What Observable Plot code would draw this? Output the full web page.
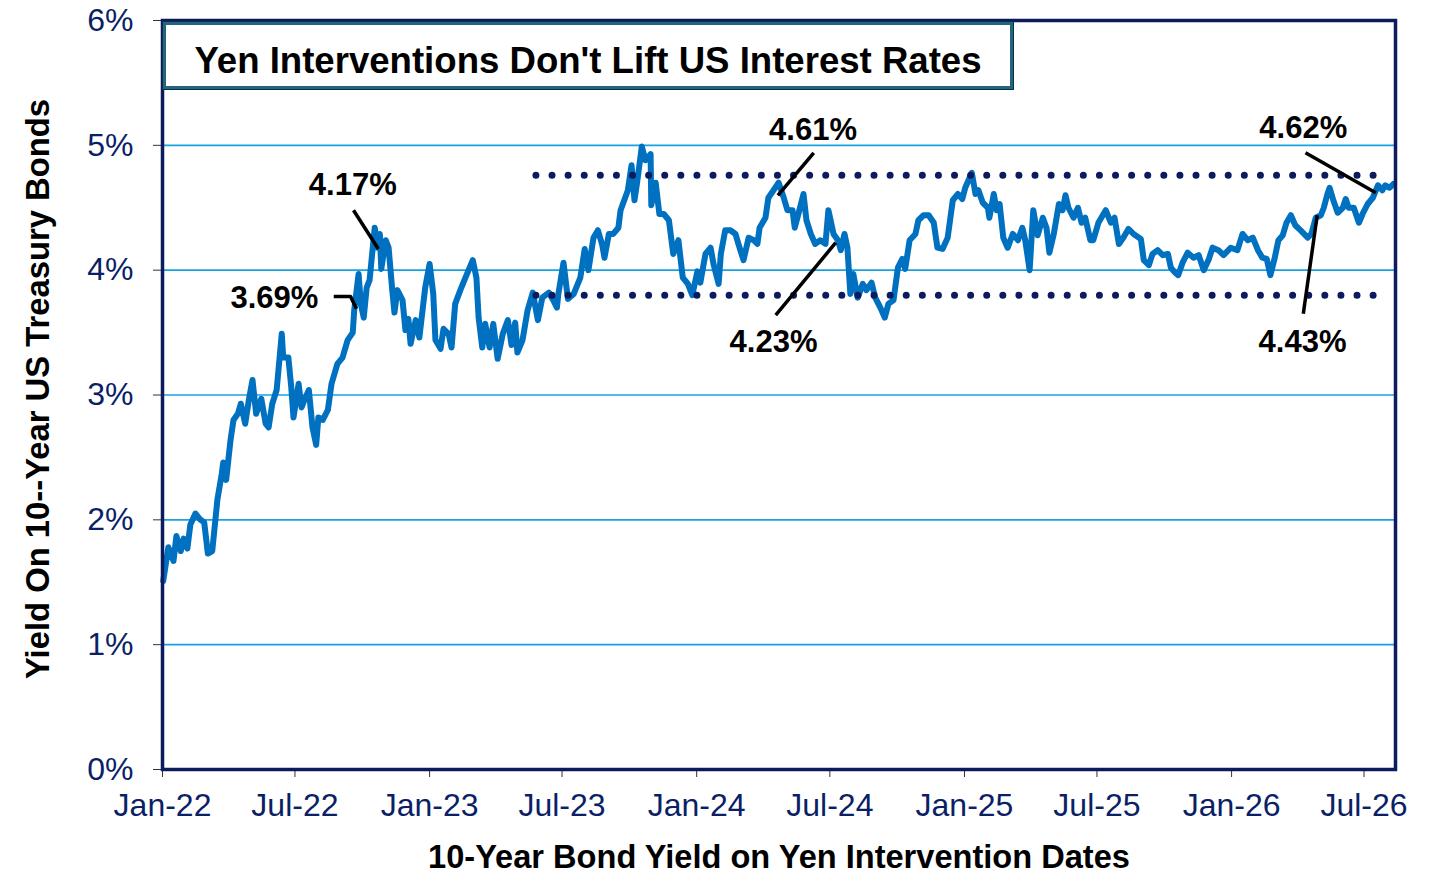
<!DOCTYPE html>
<html>
<head>
<meta charset="utf-8">
<script src="https://cdn.jsdelivr.net/npm/d3@7"></script>
<script src="https://cdn.jsdelivr.net/npm/@observablehq/plot@0.6"></script>
<style>
  html, body { margin: 0; padding: 0; background: #fff; }
  #wrap { position: relative; width: 1456px; height: 896px; font-family: "Liberation Sans", Arial, sans-serif; }
  #titlebox {
    position: absolute; left: 163px; top: 22px; width: 850px; height: 67px; box-sizing: border-box;
    border: 3px solid #23657f; outline: 1px solid #0c2f4a; background: #fff;
    display: flex; align-items: center; justify-content: center; padding-top: 10px;
    font-weight: bold; font-size: 36.6px; color: #000; white-space: nowrap;
  }
</style>
</head>
<body>
<div id="wrap">
  <div id="chart"></div>
  <div id="titlebox"></div>
</div>
<script>
const titleText = "Yen Interventions Don't Lift US Interest Rates";
const xTitle = "10-Year Bond Yield on Yen Intervention Dates";
const yTitle = "Yield On 10--Year US Treasury Bonds";

const dates = [
"2022-01-02","2022-01-09","2022-01-16","2022-01-20","2022-01-26","2022-01-30","2022-02-04","2022-02-08","2022-02-15","2022-02-22",
"2022-02-27","2022-03-04","2022-03-10","2022-03-17","2022-03-23","2022-03-25","2022-03-29","2022-04-01","2022-04-04","2022-04-08",
"2022-04-14","2022-04-18","2022-04-24","2022-04-29","2022-05-04","2022-05-09","2022-05-16","2022-05-22","2022-05-26","2022-05-31",
"2022-06-06","2022-06-13","2022-06-15","2022-06-22","2022-06-26","2022-06-29","2022-07-06","2022-07-10","2022-07-14","2022-07-20",
"2022-07-25","2022-07-30","2022-08-02","2022-08-08","2022-08-15","2022-08-20","2022-08-28","2022-09-04","2022-09-11","2022-09-18",
"2022-09-20","2022-09-26","2022-09-29","2022-10-03","2022-10-07","2022-10-11","2022-10-15","2022-10-18","2022-10-22","2022-10-25",
"2022-10-27","2022-11-02","2022-11-06","2022-11-11","2022-11-14","2022-11-18","2022-11-25","2022-11-29","2022-12-03","2022-12-06",
"2022-12-13","2022-12-18","2022-12-26","2023-01-01","2023-01-06","2023-01-09","2023-01-16","2023-01-20","2023-01-27","2023-01-31",
"2023-02-05","2023-02-12","2023-02-19","2023-03-01","2023-03-06","2023-03-09","2023-03-14","2023-03-18","2023-03-24","2023-03-29",
"2023-04-04","2023-04-11","2023-04-18","2023-04-23","2023-04-28","2023-05-01","2023-05-08","2023-05-15","2023-05-22","2023-05-29",
"2023-06-04","2023-06-13","2023-06-19","2023-06-24","2023-06-26","2023-07-03","2023-07-09","2023-07-17","2023-07-26","2023-08-01",
"2023-08-06","2023-08-13","2023-08-19","2023-08-25","2023-08-28","2023-09-03","2023-09-09","2023-09-16","2023-09-19","2023-09-29",
"2023-10-04","2023-10-08","2023-10-12","2023-10-18","2023-10-23","2023-10-30","2023-10-31","2023-11-06","2023-11-11","2023-11-17",
"2023-11-24","2023-11-30","2023-12-07","2023-12-13","2023-12-20","2023-12-26","2024-01-02","2024-01-06","2024-01-13","2024-01-20",
"2024-01-24","2024-01-31","2024-02-03","2024-02-09","2024-02-16","2024-02-23","2024-02-27","2024-03-05","2024-03-12","2024-03-19",
"2024-03-24","2024-03-27","2024-04-04","2024-04-08","2024-04-15","2024-04-22","2024-04-29","2024-05-04","2024-05-11","2024-05-14",
"2024-05-19","2024-05-26","2024-05-30","2024-06-05","2024-06-11","2024-06-18","2024-06-25","2024-06-29","2024-07-06","2024-07-12",
"2024-07-16","2024-07-21","2024-07-25","2024-07-29","2024-08-02","2024-08-08","2024-08-15","2024-08-20","2024-08-27","2024-09-01",
"2024-09-08","2024-09-14","2024-09-19","2024-09-26","2024-10-02","2024-10-08","2024-10-12","2024-10-18","2024-10-26","2024-10-30",
"2024-11-06","2024-11-13","2024-11-20","2024-11-25","2024-12-02","2024-12-09","2024-12-16","2024-12-23","2024-12-29","2025-01-02",
"2025-01-11","2025-01-16","2025-01-20","2025-01-26","2025-02-02","2025-02-04","2025-02-10","2025-02-14","2025-02-18","2025-02-23",
"2025-03-01","2025-03-08","2025-03-15","2025-03-21","2025-03-25","2025-03-31","2025-04-05","2025-04-11","2025-04-18","2025-04-23",
"2025-04-27","2025-05-03","2025-05-10","2025-05-15","2025-05-19","2025-05-23","2025-05-30","2025-06-05","2025-06-10","2025-06-15",
"2025-06-22","2025-06-26","2025-07-03","2025-07-13","2025-07-20","2025-07-25","2025-07-31","2025-08-06","2025-08-13","2025-08-20",
"2025-08-30","2025-09-03","2025-09-10","2025-09-15","2025-09-22","2025-09-29","2025-10-06","2025-10-10","2025-10-16","2025-10-20",
"2025-10-26","2025-11-02","2025-11-10","2025-11-17","2025-11-24","2025-12-01","2025-12-06","2025-12-14","2025-12-21","2025-12-31",
"2026-01-09","2026-01-16","2026-01-23","2026-01-30","2026-02-06","2026-02-12","2026-02-18","2026-02-23","2026-03-01","2026-03-06",
"2026-03-12","2026-03-17","2026-03-23","2026-03-29","2026-04-05","2026-04-15","2026-04-20","2026-04-26","2026-05-03","2026-05-07",
"2026-05-12","2026-05-15","2026-05-20","2026-05-26","2026-06-02","2026-06-06","2026-06-10","2026-06-17","2026-06-24","2026-06-29",
"2026-07-06","2026-07-13","2026-07-20","2026-07-26","2026-07-30","2026-08-05","2026-08-10"
];

const yields = [
1.51,1.78,1.67,1.87,1.75,1.85,1.77,1.96,2.05,2.00,
1.98,1.73,1.75,2.16,2.37,2.46,2.32,2.48,2.64,2.80,
2.85,2.93,2.77,2.96,3.12,2.85,2.97,2.77,2.74,2.93,
3.04,3.49,3.30,3.30,3.06,2.82,3.09,2.90,2.96,3.04,
2.74,2.60,2.82,2.80,2.88,3.09,3.25,3.30,3.44,3.50,
3.68,3.97,3.73,3.62,3.86,3.92,4.16,4.34,4.18,4.29,
4.01,4.24,4.18,3.84,3.66,3.84,3.76,3.52,3.61,3.41,
3.60,3.46,3.86,4.05,3.81,3.44,3.37,3.53,3.49,3.38,
3.73,3.84,3.94,4.08,3.94,3.62,3.38,3.57,3.38,3.57,
3.29,3.49,3.60,3.40,3.58,3.34,3.44,3.68,3.82,3.60,
3.78,3.82,3.76,3.70,3.81,4.06,3.77,3.81,3.94,4.17,
4.00,4.26,4.32,4.20,4.10,4.29,4.29,4.34,4.48,4.64,
4.84,4.56,4.72,4.99,4.88,4.93,4.52,4.70,4.45,4.45,
4.40,4.13,4.24,3.94,3.89,3.80,3.99,3.90,4.13,4.18,
4.05,3.89,4.13,4.32,4.32,4.29,4.21,4.08,4.26,4.24,
4.21,4.34,4.42,4.58,4.64,4.70,4.58,4.48,4.48,4.34,
4.45,4.61,4.40,4.29,4.21,4.24,4.21,4.48,4.29,4.24,
4.16,4.29,4.18,3.81,3.97,3.78,3.89,3.84,3.90,3.78,
3.70,3.62,3.73,3.76,4.02,4.09,4.01,4.24,4.29,4.40,
4.44,4.44,4.38,4.18,4.17,4.26,4.56,4.61,4.57,4.66,
4.78,4.61,4.64,4.54,4.50,4.42,4.61,4.48,4.53,4.26,
4.18,4.29,4.24,4.34,4.24,4.00,4.48,4.28,4.42,4.34,
4.14,4.29,4.53,4.48,4.60,4.50,4.42,4.50,4.38,4.42,
4.24,4.24,4.38,4.48,4.38,4.42,4.21,4.26,4.33,4.29,
4.25,4.08,4.04,4.13,4.16,4.12,4.13,4.02,3.98,3.96,
4.06,4.14,4.10,4.12,4.00,4.09,4.18,4.16,4.12,4.18,
4.16,4.29,4.24,4.26,4.16,4.10,4.09,3.96,4.10,4.24,
4.28,4.38,4.44,4.36,4.32,4.26,4.29,4.42,4.44,4.50,
4.61,4.66,4.56,4.46,4.50,4.57,4.50,4.50,4.38,4.45,
4.53,4.58,4.68,4.64,4.68,4.66,4.69
];

const xDomain = ["2022-01-01", "2026-08-13"];
const yTicks = [0, 1, 2, 3, 4, 5, 6];
const gridValues = [1, 2, 3, 4, 5];
const xTickDates = ["2022-01-01","2022-07-01","2023-01-01","2023-07-01","2024-01-01","2024-07-01","2025-01-01","2025-07-01","2026-01-01","2026-07-01"];
const xTickLabels = ["Jan-22","Jul-22","Jan-23","Jul-23","Jan-24","Jul-24","Jan-25","Jul-25","Jan-26","Jul-26"];

// range band (dotted lines)
const bandLevels = [4.76, 3.80];
const bandStart = "2023-05-27";
const bandEnd = "2026-07-26";

// annotation labels
const annLabels = ["3.69%", "4.17%", "4.61%", "4.23%", "4.62%", "4.43%"];
const annDates  = ["2022-08-02", "2022-09-18", "2024-06-08", "2024-04-15", "2026-04-09", "2026-04-08"];
const annValues = [3.78, 4.68, 5.12, 3.42, 5.14, 3.42];
const annAnchor = ["end", "middle", "middle", "middle", "middle", "middle"];

// leader lines: id, date, value
const leadId    = ["a","a","a","b","b","c","c","d","d","e","e","f","f"];
const leadDates = ["2022-08-23","2022-09-15","2022-09-23","2022-09-19","2022-10-23","2024-06-09","2024-04-21","2024-07-09","2024-04-18","2026-04-12","2026-07-17","2026-04-28","2026-04-09"];
const leadVals  = [3.79, 3.79, 3.69, 4.48, 4.17, 4.94, 4.60, 4.22, 3.64, 4.94, 4.62, 4.44, 3.65];

document.getElementById("titlebox").textContent = titleText;

const parse = d3.utcParse("%Y-%m-%d");
const series = dates.map((d, i) => ({date: parse(d), value: yields[i]}));
const ann = annLabels.map((t, i) => ({text: t, date: parse(annDates[i]), value: annValues[i], anchor: annAnchor[i]}));
const leads = leadId.map((id, i) => ({id, date: parse(leadDates[i]), value: leadVals[i]}));
const bands = bandLevels.map(v => ({v, x1: parse(bandStart), x2: parse(bandEnd)}));
const tickDates = xTickDates.map(parse);

const navy = "#0c1a5e";
const tickColor = "#0b1f66";
const font = "'Liberation Sans', Arial, sans-serif";
const annOpts = {x: "date", y: "value", text: "text", fontSize: 31, fontWeight: "bold", fill: "#000"};

const chart = Plot.plot({
  width: 1456,
  height: 896,
  marginLeft: 162,
  marginRight: 61,
  marginTop: 20,
  marginBottom: 127,
  style: {fontFamily: font, background: "#fff", overflow: "visible"},
  x: {type: "utc", domain: xDomain.map(parse)},
  y: {domain: [0, 6]},
  marks: [
    Plot.ruleY(gridValues, {stroke: "#17a3e3", strokeWidth: 1.6}),
    Plot.line(series, {x: "date", y: "value", stroke: "#0070c0", strokeWidth: 6, strokeLinejoin: "round", strokeLinecap: "round"}),
    Plot.ruleY(bands, {y: "v", x1: "x1", x2: "x2", stroke: navy, strokeWidth: 7, strokeDasharray: "0 16.1", strokeLinecap: "round"}),
    Plot.line(leads, {x: "date", y: "value", z: "id", stroke: "#000", strokeWidth: 3.5, strokeLinecap: "butt"}),
    Plot.text(ann.filter(d => d.anchor === "end"), {...annOpts, textAnchor: "end"}),
    Plot.text(ann.filter(d => d.anchor === "middle"), {...annOpts, textAnchor: "middle"}),
    Plot.axisY({ticks: yTicks, tickFormat: d => d + "%", tickSize: 9, tickPadding: 20, fontSize: 32, color: tickColor, stroke: "#333", label: null}),
    Plot.axisX({ticks: tickDates, tickFormat: (d, i) => xTickLabels[i], tickSize: 8, tickPadding: 16, fontSize: 32, color: tickColor, stroke: "#333", label: null}),
    Plot.frame({stroke: navy, strokeWidth: 3.5}),
    Plot.text([xTitle], {frameAnchor: "bottom", dy: 98, text: d => d, fontSize: 32.6, fontWeight: "bold", fill: "#000"}),
    Plot.text([yTitle], {frameAnchor: "left", dx: -124, dy: -6, rotate: -90, textAnchor: "middle", text: d => d, fontSize: 32.8, fontWeight: "bold", fill: "#000"})
  ]
});
document.getElementById("chart").appendChild(chart);
</script>
</body>
</html>
